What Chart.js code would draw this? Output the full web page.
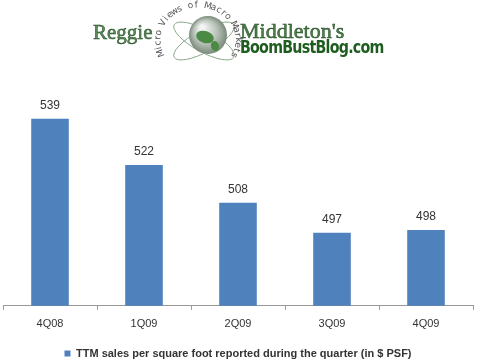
<!DOCTYPE html>
<html>
<head>
<meta charset="utf-8">
<script src="https://cdn.jsdelivr.net/npm/chart.js@4"></script>
<style>
  html, body { margin: 0; padding: 0; background: #fff; }
  #wrap { position: relative; width: 480px; height: 364px; }
  #grafica { position: absolute; left: 0; top: 0; }
  .logo { position: absolute; white-space: nowrap; }
  #reggie { left: 93px; top: 20px; font: 21px "Liberation Serif", serif; color: #5d8a5a; -webkit-text-stroke: 0.5px #1f4a1f; }
  #middleton { left: 240px; top: 18px; font: 22px "Liberation Serif", serif; color: #4f7d4c; -webkit-text-stroke: 0.5px #1f4a1f; }
  #boom { left: 240px; top: 37px; font: bold 17px "DejaVu Sans Condensed", sans-serif; font-stretch: condensed; color: #1f5c1f; letter-spacing: -0.8px; transform: scaleX(0.93); transform-origin: left; }
</style>
</head>
<body>
<div id="wrap">
  <canvas id="grafica" width="480" height="364"></canvas>
  <div class="logo" id="reggie">Reggie</div>
  <div class="logo" id="middleton">Middleton's</div>
  <div class="logo" id="boom">BoomBustBlog.com</div>
</div>
<script>
const trimestres = ['4Q08', '1Q09', '2Q09', '3Q09', '4Q09'];
const ventasPSF = [539, 522, 508, 497, 498];
const nombreSerie = 'TTM sales per square foot reported during the quarter (in $ PSF)';

// etiquetas de valor encima de cada barra
const etiquetas = {
    id: 'etiquetas',
    afterDatasetsDraw(chart) {
        const ctx = chart.ctx;
        ctx.save();
        ctx.font = '12px Arial, "Liberation Sans", sans-serif';
        ctx.fillStyle = '#333';
        ctx.textAlign = 'center';
        ctx.textBaseline = 'middle';
        chart.getDatasetMeta(0).data.forEach((bar, i) => {
            ctx.fillText(chart.data.datasets[0].data[i], bar.x, bar.y - 13);
        });
        ctx.restore();
    }
};

// globo del logo con el texto en arco
const globo = {
    id: 'globo',
    afterDraw(chart) {
        const ctx = chart.ctx;
        const cx = 208, cy = 35, r = 19;
        ctx.save();
        ctx.strokeStyle = '#8aa88a';
        ctx.lineWidth = 1;
        ctx.beginPath();
        ctx.ellipse(cx - 4, cy + 6, 34, 11, -0.5, 0, Math.PI * 2);
        ctx.stroke();
        ctx.beginPath();
        ctx.ellipse(cx - 4, cy + 6, 34, 11, 0.5, 0, Math.PI * 2);
        ctx.stroke();

        const g = ctx.createRadialGradient(cx - 6, cy - 8, 2, cx, cy, r);
        g.addColorStop(0, '#f4f4f4');
        g.addColorStop(0.6, '#b5bfb5');
        g.addColorStop(1, '#7a8a7a');
        ctx.fillStyle = g;
        ctx.beginPath();
        ctx.arc(cx, cy, r, 0, Math.PI * 2);
        ctx.fill();
        ctx.fillStyle = '#4a8a44';
        ctx.beginPath();
        ctx.ellipse(cx - 3, cy + 2, 9, 6, 0.3, 0, Math.PI * 2);
        ctx.fill();
        ctx.beginPath();
        ctx.ellipse(cx + 7, cy + 11, 4, 5, -0.3, 0, Math.PI * 2);
        ctx.fill();

        const texto = 'Micro Views of Macro Markets';
        ctx.font = '9px "DejaVu Sans", sans-serif';
        ctx.fillStyle = '#555';
        ctx.textAlign = 'center';
        ctx.textBaseline = 'middle';
        const ax = 198, ay = 40, rx = 40, ry = 35;
        const inicio = Math.PI * 0.88, fin = Math.PI * 2.14;
        for (let i = 0; i < texto.length; i++) {
            const a = inicio + (fin - inicio) * i / (texto.length - 1);
            ctx.save();
            ctx.translate(ax + rx * Math.cos(a), ay + ry * Math.sin(a));
            ctx.rotate(a + Math.PI / 2);
            ctx.fillText(texto[i], 0, 0);
            ctx.restore();
        }
        ctx.restore();
    }
};

new Chart(document.getElementById('grafica'), {
    type: 'bar',
    data: {
        labels: trimestres,
        datasets: [{
            label: nombreSerie,
            data: ventasPSF,
            backgroundColor: '#4F81BD',
            borderWidth: 0,
            barPercentage: 0.4,
            categoryPercentage: 1.0
        }]
    },
    options: {
        responsive: false,
        animation: false,
        layout: { padding: { top: 89, left: 3, right: 7, bottom: -5 } },
        scales: {
            y: { display: false, min: 470, max: 550 },
            x: {
                grid: { drawOnChartArea: false, drawTicks: true, tickLength: 4, color: '#999' },
                border: { color: '#999' },
                ticks: { color: '#333', font: { size: 11, family: 'Arial, "Liberation Sans", sans-serif' }, padding: 8 },
                afterFit(scale) { scale.height += 4; }
            }
        },
        plugins: {
            legend: {
                position: 'bottom',
                labels: {
                    color: '#333',
                    boxWidth: 6,
                    boxHeight: 6,
                    padding: 5,
                    font: { size: 11, weight: 'bold', family: 'Arial, "Liberation Sans", sans-serif' }
                }
            },
            tooltip: { enabled: false }
        }
    },
    plugins: [etiquetas, globo]
});
</script>
</body>
</html>
